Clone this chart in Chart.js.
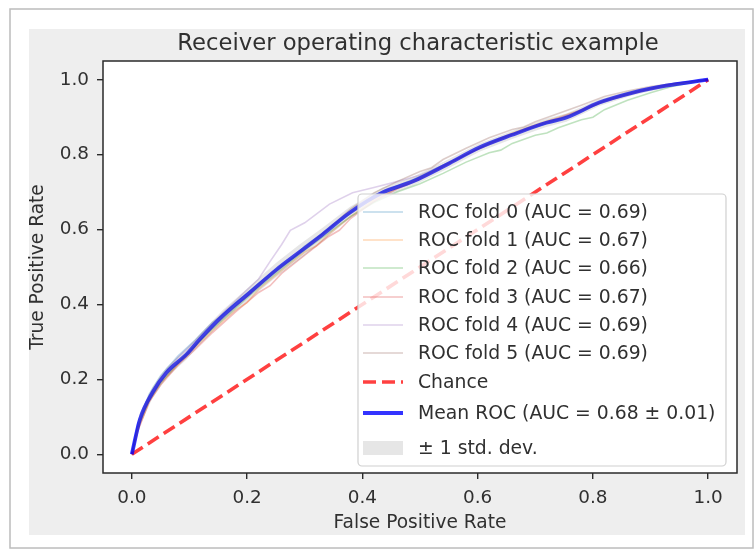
<!DOCTYPE html>
<html>
<head>
<meta charset="utf-8">
<script src="https://cdn.jsdelivr.net/npm/chart.js@4.4.0/dist/chart.umd.min.js"></script>
<style>
  html, body { margin: 0; padding: 0; background: #fff; }
  #wrap { width: 755px; height: 552px; }
</style>
</head>
<body>
<div id="wrap"><canvas id="roc" width="755" height="552"></canvas></div>
<script>
// values
const tickValues = [0, 0.2, 0.4, 0.6, 0.8, 1.0];
const foldAucs = [0.69, 0.67, 0.66, 0.67, 0.69, 0.69];
const meanAuc = 0.68;
const stdAuc = 0.01;
const foldColors = ['#1f77b4', '#ff7f0e', '#2ca02c', '#d62728', '#9467bd', '#8c564b'];

const fold0 = [[0,0],[0.01,0.08],[0.03,0.16],[0.05,0.21],[0.08,0.262],[0.11,0.305],[0.14,0.352],[0.16,0.375],[0.18,0.405],[0.22,0.456],[0.26,0.505],[0.28,0.524],[0.30,0.556],[0.34,0.6],[0.38,0.646],[0.42,0.69],[0.46,0.716],[0.50,0.741],[0.54,0.772],[0.58,0.8],[0.62,0.832],[0.66,0.855],[0.70,0.874],[0.74,0.893],[0.78,0.915],[0.82,0.944],[0.86,0.963],[0.90,0.977],[0.94,0.99],[0.97,0.995],[1,1]];
const fold1 = [[0,0],[0.01,0.065],[0.03,0.14],[0.05,0.19],[0.08,0.24],[0.11,0.285],[0.14,0.33],[0.18,0.385],[0.20,0.405],[0.22,0.44],[0.26,0.49],[0.30,0.54],[0.32,0.556],[0.34,0.585],[0.38,0.635],[0.42,0.68],[0.46,0.71],[0.50,0.738],[0.54,0.768],[0.58,0.8],[0.62,0.83],[0.66,0.858],[0.70,0.88],[0.74,0.9],[0.78,0.92],[0.82,0.945],[0.86,0.962],[0.90,0.975],[0.94,0.987],[0.97,0.994],[1,1]];
const fold2 = [[0,0],[0.01,0.07],[0.03,0.145],[0.05,0.19],[0.08,0.243],[0.11,0.29],[0.14,0.335],[0.18,0.39],[0.22,0.445],[0.26,0.495],[0.30,0.545],[0.34,0.59],[0.38,0.635],[0.42,0.672],[0.46,0.7],[0.50,0.722],[0.54,0.75],[0.58,0.78],[0.62,0.805],[0.64,0.812],[0.66,0.83],[0.70,0.852],[0.72,0.858],[0.74,0.872],[0.78,0.893],[0.80,0.9],[0.82,0.92],[0.86,0.945],[0.90,0.965],[0.94,0.983],[0.97,0.992],[1,1]];
const fold3 = [[0,0],[0.01,0.06],[0.03,0.14],[0.05,0.185],[0.08,0.238],[0.11,0.28],[0.14,0.325],[0.18,0.38],[0.22,0.432],[0.24,0.45],[0.26,0.483],[0.30,0.532],[0.34,0.58],[0.36,0.598],[0.38,0.63],[0.42,0.675],[0.46,0.708],[0.50,0.735],[0.54,0.768],[0.58,0.8],[0.62,0.828],[0.66,0.853],[0.70,0.876],[0.74,0.896],[0.78,0.918],[0.82,0.942],[0.86,0.96],[0.90,0.975],[0.94,0.988],[0.97,0.994],[1,1]];
const fold4 = [[0,0],[0.01,0.075],[0.03,0.155],[0.05,0.205],[0.08,0.258],[0.11,0.302],[0.14,0.35],[0.18,0.41],[0.22,0.468],[0.24,0.515],[0.26,0.56],[0.275,0.598],[0.30,0.618],[0.343,0.668],[0.383,0.698],[0.42,0.712],[0.46,0.728],[0.50,0.745],[0.54,0.772],[0.58,0.8],[0.62,0.83],[0.66,0.855],[0.70,0.877],[0.74,0.898],[0.78,0.92],[0.82,0.945],[0.86,0.965],[0.90,0.978],[0.94,0.99],[0.97,0.995],[1,1]];
const fold5 = [[0,0],[0.01,0.07],[0.03,0.15],[0.05,0.195],[0.08,0.245],[0.11,0.29],[0.14,0.338],[0.18,0.395],[0.22,0.45],[0.26,0.5],[0.30,0.55],[0.34,0.6],[0.38,0.655],[0.42,0.698],[0.46,0.728],[0.50,0.755],[0.52,0.765],[0.54,0.787],[0.58,0.817],[0.62,0.845],[0.66,0.867],[0.68,0.874],[0.70,0.888],[0.74,0.91],[0.78,0.932],[0.82,0.955],[0.86,0.97],[0.90,0.982],[0.94,0.99],[0.97,0.995],[1,1]];
const foldCurves = [fold0, fold1, fold2, fold3, fold4, fold5];

const meanRoc = [[0,0],[0.014,0.093],[0.036,0.165],[0.06,0.218],[0.095,0.267],[0.118,0.307],[0.158,0.37],[0.205,0.432],[0.251,0.493],[0.291,0.54],[0.331,0.587],[0.378,0.645],[0.435,0.699],[0.487,0.728],[0.546,0.773],[0.603,0.819],[0.66,0.853],[0.719,0.885],[0.754,0.899],[0.811,0.939],[0.868,0.965],[0.927,0.984],[1,1]];
const stdUpper = [[0,0],[0.014,0.11],[0.036,0.18],[0.06,0.232],[0.095,0.281],[0.118,0.321],[0.158,0.385],[0.205,0.449],[0.251,0.512],[0.291,0.56],[0.331,0.605],[0.378,0.66],[0.435,0.712],[0.487,0.74],[0.546,0.785],[0.603,0.83],[0.66,0.864],[0.719,0.896],[0.754,0.91],[0.811,0.948],[0.868,0.972],[0.927,0.989],[1,1]];
const stdLower = [[0,0],[0.014,0.076],[0.036,0.15],[0.06,0.204],[0.095,0.253],[0.118,0.293],[0.158,0.355],[0.205,0.415],[0.251,0.474],[0.291,0.52],[0.331,0.569],[0.378,0.63],[0.435,0.686],[0.487,0.716],[0.546,0.761],[0.603,0.808],[0.66,0.842],[0.719,0.874],[0.754,0.888],[0.811,0.93],[0.868,0.958],[0.927,0.979],[1,1]];
const chanceLine = [[0,0],[1,1]];

const FONT = 'DejaVu Sans';
const TEXT = '#303030';

const toXY = pts => pts.map(p => ({x: p[0], y: p[1]}));
const alpha = (hex, a) => {
    const n = parseInt(hex.slice(1), 16);
    return `rgba(${n >> 16}, ${(n >> 8) & 255}, ${n & 255}, ${a})`;
};

const datasets = foldCurves.map((pts, i) => ({
    label: `ROC fold ${i} (AUC = ${foldAucs[i].toFixed(2)})`,
    data: toXY(pts),
    borderColor: alpha(foldColors[i], 0.3),
    borderWidth: 1.6,
    pointRadius: 0,
    tension: 0,
    order: 10 - i,
}));
datasets.push({
    label: 'Chance',
    data: toXY(chanceLine),
    borderColor: 'rgba(255, 0, 0, 0.75)',
    borderWidth: 3.6,
    borderDash: [13, 6],
    pointRadius: 0,
    order: 3,
});
datasets.push({
    label: `Mean ROC (AUC = ${meanAuc.toFixed(2)} \u00b1 ${stdAuc.toFixed(2)})`,
    data: toXY(meanRoc),
    borderColor: 'rgba(0, 0, 255, 0.8)',
    borderWidth: 3.8,
    pointRadius: 0,
    cubicInterpolationMode: 'monotone',
    order: 2,
});
datasets.push({
    label: '\u00b1 1 std. dev.',
    data: toXY(stdUpper),
    borderWidth: 0,
    borderColor: 'rgba(0,0,0,0)',
    backgroundColor: 'rgba(128, 128, 128, 0.2)',
    fill: '+1',
    pointRadius: 0,
    order: 1,
});
datasets.push({
    label: 'stdLower',
    data: toXY(stdLower),
    borderWidth: 0,
    borderColor: 'rgba(0,0,0,0)',
    pointRadius: 0,
    order: 1,
});

// figure background, frame, title and legend, matplotlib style
const figurePlugin = {
    id: 'figure',
    beforeDraw(chart) {
        const {ctx, chartArea: a} = chart;
        ctx.save();
        ctx.fillStyle = '#ffffff';
        ctx.fillRect(0, 0, chart.width, chart.height);
        ctx.strokeStyle = '#bcbcbc';
        ctx.lineWidth = 1.5;
        ctx.strokeRect(10, 9, 743, 539);
        ctx.fillStyle = '#eeeeee';
        ctx.fillRect(29, 29, 716, 506);
        ctx.fillStyle = '#ffffff';
        ctx.fillRect(a.left, a.top, a.right - a.left, a.bottom - a.top);
        ctx.restore();
    },
    afterDraw(chart) {
        const {ctx, chartArea: a} = chart;
        ctx.save();
        // spines
        ctx.strokeStyle = '#2a2a2a';
        ctx.lineWidth = 1.5;
        ctx.strokeRect(a.left, a.top, a.right - a.left, a.bottom - a.top);
        // title
        ctx.fillStyle = TEXT;
        ctx.font = `22.7px "${FONT}"`;
        ctx.textAlign = 'center';
        ctx.textBaseline = 'middle';
        ctx.fillText('Receiver operating characteristic example', (a.left + a.right) / 2 - 2, 44);

        // legend (lower right)
        const rows = [18, 46, 74, 103, 131, 159, 188, 219, 254];
        const w = 368, h = 272;
        const x0 = a.right - 11 - w, y0 = a.bottom - 7 - h;
        ctx.beginPath();
        ctx.roundRect(x0, y0, w, h, 4);
        ctx.fillStyle = 'rgba(255,255,255,0.8)';
        ctx.fill();
        ctx.strokeStyle = '#d0d0d0';
        ctx.lineWidth = 1.2;
        ctx.stroke();
        const items = chart.data.datasets.filter(d => d.label !== 'stdLower');
        ctx.font = `18.8px "${FONT}"`;
        ctx.textAlign = 'left';
        items.forEach((d, i) => {
            const cy = y0 + rows[i];
            const hx = x0 + 5;
            if (d.fill) {
                ctx.fillStyle = d.backgroundColor;
                ctx.fillRect(hx, cy - 7, 40, 14);
            } else {
                ctx.beginPath();
                ctx.setLineDash(d.borderDash || []);
                ctx.strokeStyle = d.borderColor;
                ctx.lineWidth = d.borderWidth;
                ctx.moveTo(hx, cy);
                ctx.lineTo(hx + 40, cy);
                ctx.stroke();
                ctx.setLineDash([]);
            }
            ctx.fillStyle = TEXT;
            ctx.fillText(d.label, x0 + 60, cy + 1);
        });
        ctx.restore();
    }
};

const axisCommon = {
    type: 'linear',
    min: -0.05,
    max: 1.05,
    afterBuildTicks: scale => { scale.ticks = tickValues.map(v => ({value: v})); },
    grid: { display: true, drawOnChartArea: false, drawTicks: true, tickLength: 6, color: '#2a2a2a', lineWidth: 1.4 },
    border: { display: false },
    ticks: {
        color: TEXT,
        font: { family: FONT, size: 18.4 },
        callback: v => v.toFixed(1),
    },
};

new Chart(document.getElementById('roc'), {
    type: 'line',
    data: { datasets },
    options: {
        responsive: false,
        animation: false,
        events: [],
        layout: { padding: { top: 61, right: 18, bottom: 0, left: 0 } },
        plugins: {
            legend: { display: false },
            tooltip: { enabled: false },
            title: { display: false },
        },
        scales: {
            x: {
                ...axisCommon,
                position: 'bottom',
                ticks: { ...axisCommon.ticks, padding: 8, maxRotation: 0 },
                title: { display: true, text: 'False Positive Rate', color: TEXT, font: { family: FONT, size: 18.6 }, padding: { top: 0, bottom: 18 } },
                afterFit: scale => { scale.height = 79; },
            },
            y: {
                ...axisCommon,
                position: 'left',
                ticks: { ...axisCommon.ticks, padding: 8 },
                title: { display: true, text: 'True Positive Rate', color: TEXT, font: { family: FONT, size: 18.6 }, padding: { top: 27, bottom: 0 } },
                afterFit: scale => { scale.width = 103; },
            },
        },
    },
    plugins: [figurePlugin],
});
</script>
</body>
</html>
